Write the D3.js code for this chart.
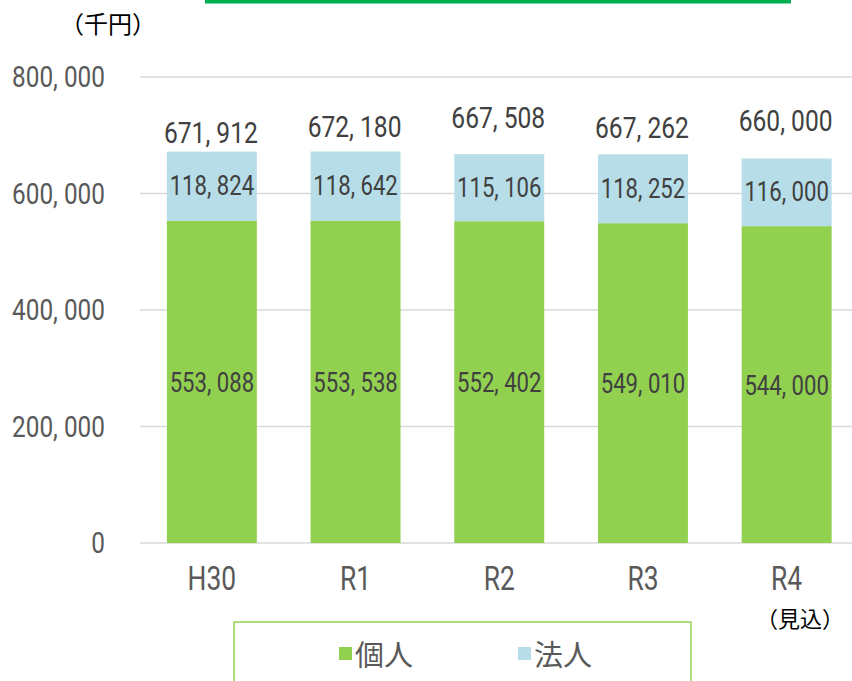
<!DOCTYPE html>
<html>
<head>
<meta charset="utf-8">
<script src="https://cdn.jsdelivr.net/npm/d3@7"></script>
<style>
  body { margin: 0; background: #fff; }
  svg { display: block; }
</style>
</head>
<body>
<svg id="chart"></svg>
<script>
// data
const years = ['H30', 'R1', 'R2', 'R3', 'R4']
const kojin = [553088, 553538, 552402, 549010, 544000]
const hojin = [118824, 118642, 115106, 118252, 116000]
const totals = [671912, 672180, 667508, 667262, 660000]
const yTicks = [0, 200000, 400000, 600000, 800000]

const width = 852, height = 681
const green = '#92d050', blue = '#b7dde8'
const numFont = 'Roboto, sans-serif'
const jpFont = '"Noto Sans CJK JP", sans-serif'

// gap between bar top and total label (labels sit a bit irregularly in the original)
const totalGap = [9, 14, 26, 16, 28]

const svg = d3.select('#chart').attr('width', width).attr('height', height)

const x = d3.scaleBand().domain(years).range([140, 858.5]).paddingInner(0.374).paddingOuter(0.187)
const y = d3.scaleLinear().domain([0, 800000]).range([543, 77])

const fmt = v => d3.format(',')(v).replace(/,/g, ', ')

// condensed numbers: squeeze the text horizontally around its anchor
const narrow = (sel, fx, fy, sx) => sel
  .attr('x', 0).attr('y', 0)
  .attr('transform', (d, i) => `translate(${fx(d, i)},${fy(d, i)}) scale(${sx},1)`)

// top decoration line
svg.append('rect').attr('x', 205).attr('y', 0).attr('width', 586).attr('height', 3.5).attr('fill', '#00b050')

// gridlines
svg.append('g').selectAll('line').data(yTicks).enter().append('line')
  .attr('x1', 140).attr('x2', width)
  .attr('y1', d => y(d)).attr('y2', d => y(d))
  .attr('stroke', '#d9d9d9').attr('stroke-width', 1.5)

// y axis labels
svg.append('g').selectAll('text').data(yTicks).enter().append('text')
  .call(narrow, () => 105, d => y(d) + 10, 0.84)
  .attr('text-anchor', 'end')
  .attr('font-family', numFont).attr('font-size', 29).attr('fill', '#595959')
  .text(d => fmt(d))

// unit label
svg.append('text').attr('x', 60).attr('y', 33)
  .attr('font-family', jpFont).attr('font-size', 24).attr('fill', '#000')
  .text('（千円）')

// bars
const rows = years.map((k, i) => ({ k, a: kojin[i], b: hojin[i], t: totals[i], i }))
const cx = d => x(d.k) + x.bandwidth() / 2

const g = svg.append('g')
g.selectAll('rect.kojin').data(rows).enter().append('rect')
  .attr('class', 'kojin')
  .attr('x', d => x(d.k)).attr('width', x.bandwidth())
  .attr('y', d => y(d.a)).attr('height', d => y(0) - y(d.a))
  .attr('fill', green)

g.selectAll('rect.hojin').data(rows).enter().append('rect')
  .attr('class', 'hojin')
  .attr('x', d => x(d.k)).attr('width', x.bandwidth())
  .attr('y', d => y(d.a + d.b)).attr('height', d => y(d.a) - y(d.a + d.b))
  .attr('fill', blue)

// segment labels
g.selectAll('text.kl').data(rows).enter().append('text')
  .call(narrow, cx, d => (y(0) + y(d.a)) / 2 + 10, 0.82)
  .attr('text-anchor', 'middle')
  .attr('font-family', numFont).attr('font-size', 27).attr('fill', '#404040')
  .text(d => fmt(d.a))

g.selectAll('text.hl').data(rows).enter().append('text')
  .call(narrow, cx, d => (y(d.a) + y(d.a + d.b)) / 2 + 9, 0.82)
  .attr('text-anchor', 'middle')
  .attr('font-family', numFont).attr('font-size', 27).attr('fill', '#404040')
  .text(d => fmt(d.b))

// total labels
g.selectAll('text.tl').data(rows).enter().append('text')
  .call(narrow, d => cx(d) - 1, d => y(d.t) - totalGap[d.i], 0.82)
  .attr('text-anchor', 'middle')
  .attr('font-family', numFont).attr('font-size', 30).attr('fill', '#404040')
  .text(d => fmt(d.t))

// x axis labels
svg.append('g').selectAll('text').data(years).enter().append('text')
  .call(narrow, d => x(d) + x.bandwidth() / 2, () => 590, 0.8)
  .attr('text-anchor', 'middle')
  .attr('font-family', numFont).attr('font-size', 33).attr('fill', '#595959')
  .text(d => d)

svg.append('text').attr('x', 800).attr('y', 627)
  .attr('text-anchor', 'middle')
  .attr('font-family', jpFont).attr('font-size', 22).attr('fill', '#000')
  .text('（見込）')

// legend
const legend = svg.append('g')
legend.append('rect').attr('x', 234).attr('y', 622).attr('width', 457).attr('height', 80)
  .attr('fill', 'none').attr('stroke', green).attr('stroke-width', 1.5)

const legendItems = [{ name: '個人', color: green, x: 339 }, { name: '法人', color: blue, x: 518 }]
legendItems.forEach(it => {
  legend.append('rect').attr('x', it.x).attr('y', 647).attr('width', 13).attr('height', 13).attr('fill', it.color)
  legend.append('text').attr('x', it.x + 16).attr('y', 666)
    .attr('font-family', jpFont).attr('font-size', 29).attr('fill', '#595959')
    .text(it.name)
})
</script>
</body>
</html>
